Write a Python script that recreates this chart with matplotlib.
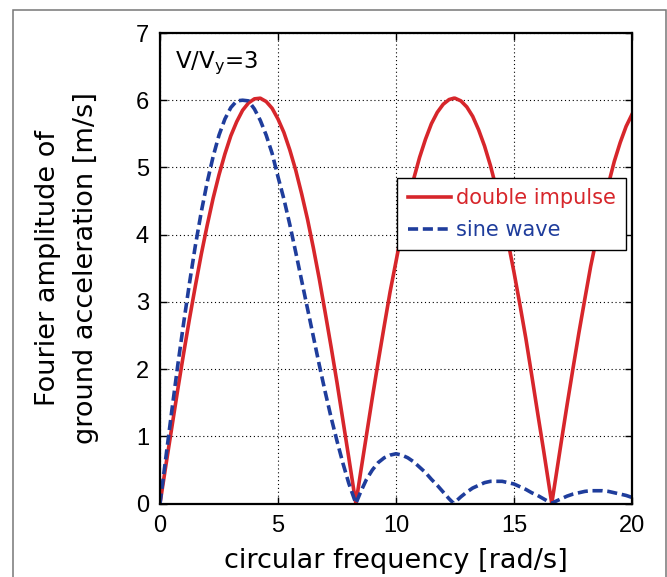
"""Fourier amplitude of ground acceleration: double impulse vs one-cycle sine wave."""
import matplotlib
matplotlib.use("Agg")
import matplotlib.pyplot as plt
from matplotlib.patches import Rectangle

plt.rcParams.update({
    "font.family": "DejaVu Sans",
    "mathtext.fontset": "dejavusans",
    "mathtext.default": "regular",
})

RED = "#d7262b"
BLUE = "#1f3d9c"

# circular frequency [rad/s]
omega = [0.0, 0.25, 0.5, 0.75, 1.0, 1.25, 1.5, 1.75, 2.0, 2.25, 2.5, 2.75,
         3.0, 3.25, 3.5, 3.75, 4.0, 4.25, 4.5, 4.75, 5.0, 5.25, 5.5, 5.75,
         6.0, 6.25, 6.5, 6.75, 7.0, 7.25, 7.5, 7.75, 8.0, 8.25, 8.3,
         8.5, 8.75, 9.0, 9.25, 9.5, 9.75, 10.0, 10.25, 10.5, 10.75, 11.0,
         11.25, 11.5, 11.75, 12.0, 12.25, 12.45,
         12.5, 12.75, 13.0, 13.25, 13.5, 13.75, 14.0, 14.25, 14.5, 14.75,
         15.0, 15.25, 15.5, 15.75, 16.0, 16.25, 16.5, 16.6,
         16.75, 17.0, 17.25, 17.5, 17.75, 18.0, 18.25, 18.5, 18.75, 19.0,
         19.25, 19.5, 19.75, 20.0]

# Fourier amplitude [m/s], V/Vy = 3
double_impulse = [0.0, 0.57, 1.13, 1.69, 2.23, 2.75, 3.24, 3.71, 4.14, 4.54, 4.89, 5.20,
                  5.47, 5.68, 5.85, 5.96, 6.02, 6.03, 5.98, 5.88, 5.72, 5.52, 5.26, 4.96,
                  4.61, 4.23, 3.80, 3.34, 2.84, 2.33, 1.80, 1.24, 0.68, 0.11, 0.0,
                  0.46, 1.02, 1.58, 2.12, 2.64, 3.15, 3.60, 4.06, 4.44, 4.83, 5.15,
                  5.42, 5.65, 5.82, 5.94, 6.01, 6.03,
                  6.03, 5.99, 5.90, 5.76, 5.56, 5.32, 5.03, 4.69, 4.31, 3.89,
                  3.44, 2.96, 2.46, 1.91, 1.35, 0.80, 0.23, 0.0,
                  0.34, 0.91, 1.47, 2.01, 2.54, 3.04, 3.53, 3.95, 4.38, 4.75,
                  5.09, 5.37, 5.61, 5.79]
sine_wave = [0.0, 0.69, 1.38, 2.05, 2.68, 3.28, 3.84, 4.34, 4.78, 5.16, 5.48, 5.72,
             5.89, 5.99, 6.00, 5.99, 5.87, 5.70, 5.48, 5.21, 4.86, 4.53, 4.15, 3.74,
             3.32, 2.90, 2.48, 2.06, 1.66, 1.28, 0.93, 0.60, 0.30, 0.05, 0.0,
             0.17, 0.36, 0.50, 0.61, 0.68, 0.72, 0.74, 0.72, 0.68, 0.62, 0.54,
             0.46, 0.36, 0.27, 0.17, 0.07, 0.0,
             0.02, 0.10, 0.17, 0.23, 0.27, 0.31, 0.33, 0.33, 0.33, 0.31,
             0.29, 0.25, 0.21, 0.16, 0.12, 0.07, 0.02, 0.0,
             0.03, 0.07, 0.11, 0.14, 0.16, 0.18, 0.19, 0.19, 0.19, 0.18,
             0.16, 0.14, 0.12, 0.09]

W, H = 667, 577
fig = plt.figure(figsize=(W / 100, H / 100), dpi=100)

# thin grey frame around the whole figure
fig.patches.append(Rectangle((13.5 / W, -0.1), (666 - 13.5) / W, 1.1 - 9.5 / H,
                             transform=fig.transFigure, fill=False,
                             edgecolor="#777777", linewidth=1.1))

ax = fig.add_axes([160 / W, 1 - 503.5 / H, 472 / W, 470.5 / H])

ax.plot(omega, double_impulse, color=RED, linewidth=2.6, label="double impulse")
ax.plot(omega, sine_wave, color=BLUE, linewidth=2.6, linestyle=(0, (2.8, 1.3)),
        label="sine wave")

ax.set_xlim(0, 20)
ax.set_ylim(0, 7)
ax.set_xticks([0, 5, 10, 15, 20])
ax.set_yticks(range(8))
ax.grid(True, color="black", linestyle=(0, (1, 2.5)), linewidth=0.8)
ax.tick_params(direction="in", length=5, width=1, top=True, right=True,
               labelsize=17, pad=8)
for lbl in ax.get_xticklabels() + ax.get_yticklabels():
    lbl.set_family("Liberation Sans")
for sp in ax.spines.values():
    sp.set_linewidth(1.6)

fig.text(175 / W, 1 - 68 / H, r"V/V$_y$=3", fontsize=16.5, va="baseline")

leg = ax.legend(loc="upper right", bbox_to_anchor=(626 / W, 1 - 178 / H),
                bbox_transform=fig.transFigure, fontsize=15, handlelength=2.05,
                handletextpad=0.25, borderpad=0.5, labelspacing=0.55,
                fancybox=False, framealpha=1, borderaxespad=0)
leg.get_frame().set_edgecolor("black")
leg.get_frame().set_linewidth(1.0)
for txt, col in zip(leg.get_texts(), [RED, BLUE]):
    txt.set_color(col)

fig.text(396 / W, 1 - 568 / H, "circular frequency [rad/s]", fontsize=19.5,
         ha="center", va="baseline")
fig.text(67.5 / W, 1 - 268 / H, "Fourier amplitude of\nground acceleration [m/s]",
         fontsize=19.5, rotation=90, ha="center", va="center",
         multialignment="center", linespacing=1.6)

fig.savefig("out.png", dpi=100)
